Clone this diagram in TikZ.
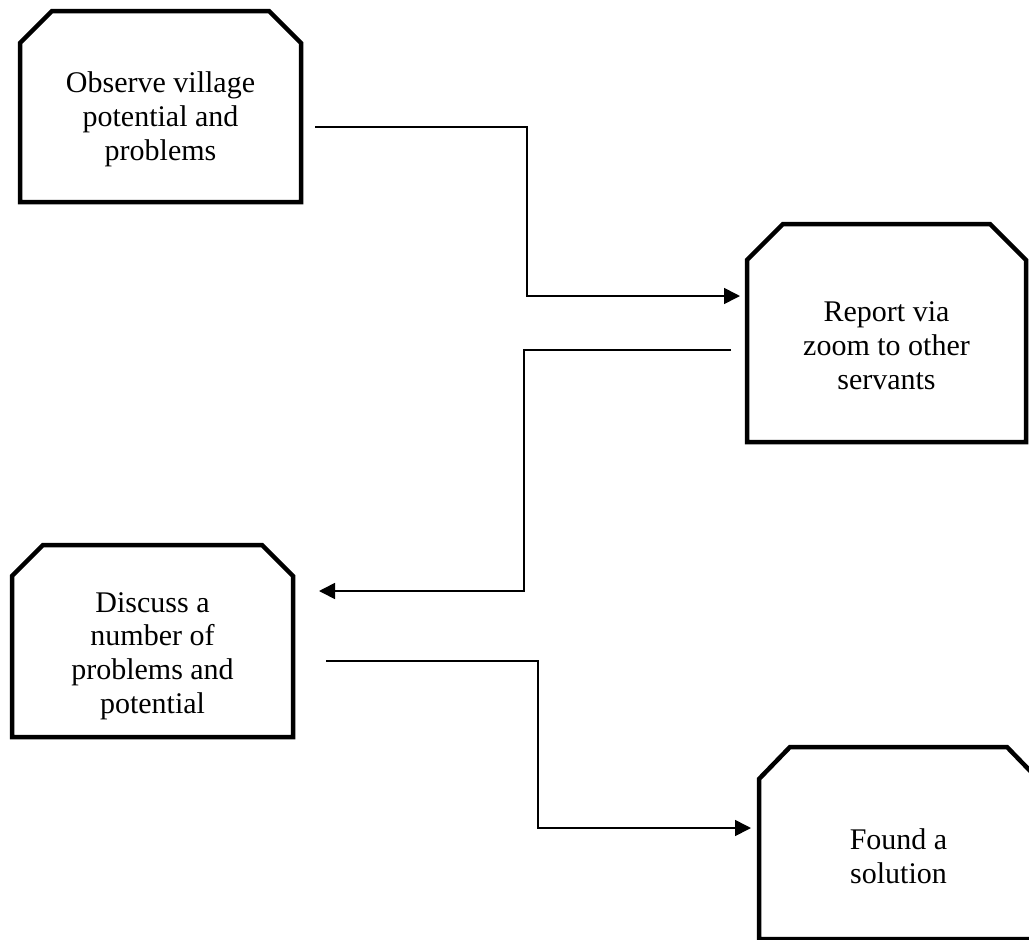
\documentclass[tikz,border=0pt]{standalone}
\usepackage{fontspec}
\setmainfont{Liberation Serif}
\usetikzlibrary{arrows.meta}
\begin{document}
\begin{tikzpicture}[x=1pt,y=-1pt,
  boxnode/.style={draw=none,rectangle,inner sep=0pt,outer sep=0pt},
  boxline/.style={line width=4.5pt,line join=miter,draw=black},
  txt/.style={align=center,inner sep=0pt,font=\fontsize{30}{33.8}\selectfont},
  conn/.style={line width=1.6pt,-{Triangle[length=16pt,width=16pt]}}]
\clip (0,0) rectangle (1029,940);
\fill[white] (0,0) rectangle (1029,940);
% boxes
\node[boxnode,minimum width=281pt,minimum height=191pt] (b1) at (160.5,106.5) {};
\node[boxnode,minimum width=279pt,minimum height=218pt] (b2) at (886.5,333) {};
\node[boxnode,minimum width=281pt,minimum height=192pt] (b3) at (152.5,641) {};
\node[boxnode,minimum width=279pt,minimum height=192pt] (b4) at (898.5,843) {};
\draw[boxline] ([yshift=-32pt]b1.north west) -- ([xshift=32pt]b1.north west) -- ([xshift=-32pt]b1.north east) -- ([yshift=-32pt]b1.north east) -- (b1.south east) -- (b1.south west) -- cycle;
\draw[boxline] ([yshift=-36pt]b2.north west) -- ([xshift=36pt]b2.north west) -- ([xshift=-36pt]b2.north east) -- ([yshift=-36pt]b2.north east) -- (b2.south east) -- (b2.south west) -- cycle;
\draw[boxline] ([yshift=-31pt]b3.north west) -- ([xshift=31pt]b3.north west) -- ([xshift=-31pt]b3.north east) -- ([yshift=-31pt]b3.north east) -- (b3.south east) -- (b3.south west) -- cycle;
\draw[boxline] ([yshift=-32pt]b4.north west) -- ([xshift=31pt]b4.north west) -- ([xshift=-31pt]b4.north east) -- ([yshift=-32pt]b4.north east) -- (b4.south east) -- (b4.south west) -- cycle;
% texts
\node[txt] (t1) at (160.5,119.5) {Observe village\\potential and\\problems};
\node[txt] (t2) at (886.5,345.5) {Report via\\zoom to other\\servants};
\node[txt] (t3) at (152.5,656) {Discuss a\\number of\\problems and\\potential};
\node[txt] (t4) at (898.5,856) {Found a\\solution};
% connector ends
\coordinate (c1s) at (315,127);
\coordinate (c1e) at (740,296);
\coordinate (c2s) at (731,350);
\coordinate (c2e) at (319,591);
\coordinate (c3s) at (326,661);
\coordinate (c3e) at (751,828);
\draw[conn] (c1s) -- (527,127) -- (527,296) -- (c1e);
\draw[conn] (c2s) -- (524,350) -- (524,591) -- (c2e);
\draw[conn] (c3s) -- (538,661) -- (538,828) -- (c3e);
\end{tikzpicture}
\end{document}
